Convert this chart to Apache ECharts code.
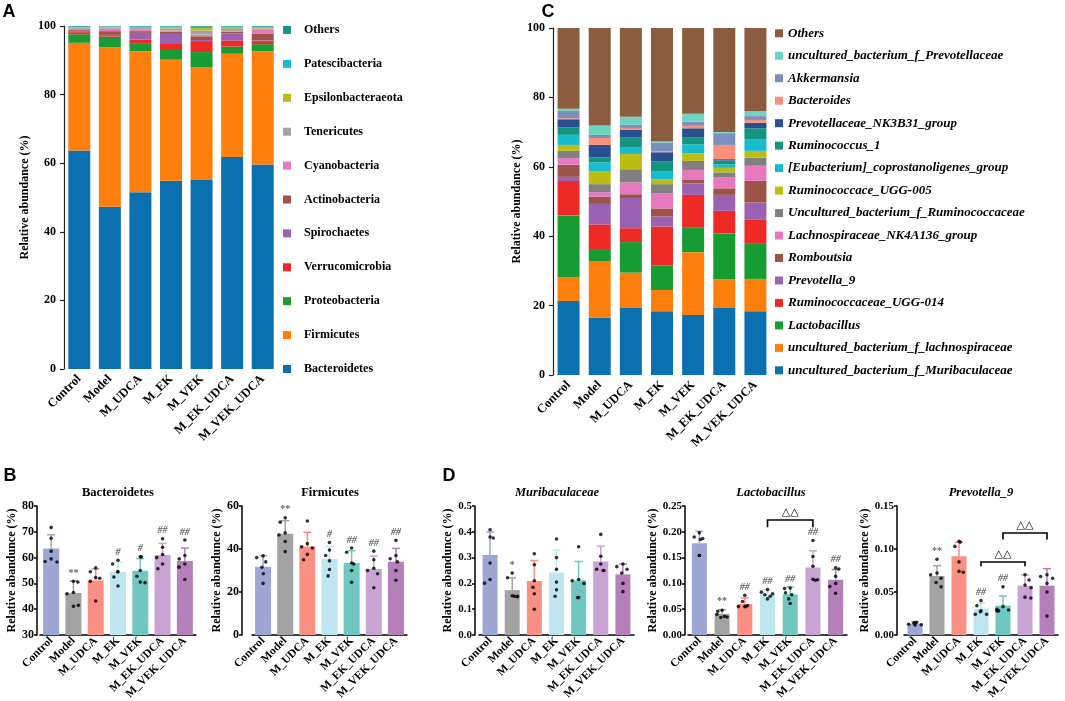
<!DOCTYPE html>
<html><head><meta charset="utf-8">
<script src="https://cdn.jsdelivr.net/npm/echarts@6.0.0/dist/echarts.min.js"></script>
<style>html,body{margin:0;padding:0;background:#fff}#c{width:1065px;height:701px}</style>
</head><body><div id="c"></div>
<script>
// ---------------- DATA ----------------
const groups = ['Control','Model','M_UDCA','M_EK','M_VEK','M_EK_UDCA','M_VEK_UDCA'];

// Panel A: phylum relative abundance (%), stacked bottom -> top
const bacteroidetes      = [63.7, 47.3, 51.5, 54.9, 55.1, 61.8, 59.6];
const firmicutes         = [31.4, 46.5, 41.1, 35.3, 32.8, 30.1, 33.0];
const proteobacteria     = [2.5, 2.7, 2.2, 2.8, 4.5, 2.1, 2.1];
const verrucomicrobia    = [0.6, 0.5, 1.2, 2.0, 3.2, 1.8, 0.9];
const spirochaetes       = [0.3, 0.4, 2.0, 2.7, 0.3, 2.1, 0.2];
const actinobacteria     = [0.3, 1.1, 0.5, 0.6, 1.1, 0.4, 1.9];
const cyanobacteria      = [0.4, 0.7, 0.4, 0.4, 0.5, 0.2, 1.2];
const tenericutes        = [0.3, 0.3, 0.5, 0.6, 1.2, 0.8, 0.4];
const epsilonbacteraeota = [0.1, 0.3, 0.3, 0.3, 0.7, 0.2, 0.3];
const patescibacteria    = [0.2, 0.1, 0.2, 0.3, 0.4, 0.4, 0.2];
const phylumOthers       = [0.2, 0.1, 0.1, 0.1, 0.2, 0.1, 0.2];

// Panel C: genus relative abundance (%), stacked bottom -> top
const gMuribaculaceae   = [21.3, 16.6, 19.3, 18.4, 17.3, 19.3, 18.4];
const gLachnospiraceae  = [6.8, 16.1, 10.2, 6.1, 18.1, 8.3, 9.3];
const gLactobacillus    = [17.9, 3.6, 8.8, 7.1, 7.2, 13.2, 10.1];
const gUGG014           = [9.9, 7.1, 4.0, 11.2, 9.3, 6.5, 6.9];
const gPrevotella9      = [1.2, 5.9, 8.7, 2.9, 3.3, 4.6, 5.0];
const gRomboutsia       = [3.5, 2.1, 1.1, 2.3, 1.0, 1.9, 6.3];
const gNK4A136          = [1.9, 1.3, 3.4, 4.3, 2.9, 3.1, 4.3];
const gRuminococcaceae  = [2.1, 2.3, 3.8, 2.7, 2.6, 1.5, 2.3];
const gUGG005           = [1.7, 3.8, 4.4, 1.4, 2.2, 1.3, 2.0];
const gEubacterium      = [2.9, 2.5, 1.8, 2.2, 2.6, 1.0, 3.4];
const gRuminococcus1    = [2.1, 1.4, 2.9, 3.0, 1.9, 1.1, 3.1];
const gNK3B31           = [2.4, 3.6, 2.2, 2.6, 2.7, 0.4, 1.6];
const gBacteroides      = [0.3, 2.0, 0.6, 0.3, 0.7, 4.1, 0.8];
const gAkkermansia      = [2.1, 0.9, 0.9, 2.5, 1.2, 3.4, 1.1];
const gPrevotellaceae   = [0.6, 2.7, 2.3, 0.3, 2.3, 0.3, 1.5];
const gOthers           = [23.3, 28.1, 25.6, 32.7, 24.7, 30.0, 23.9];

// Panel B: Bacteroidetes / Firmicutes (%)
const bactMean = [63.5, 46.3, 51.1, 54.4, 54.9, 61.0, 58.7];
const bactSD   = [5.3, 4.6, 4.5, 4.0, 4.7, 4.5, 5.0];
const bactDots = [[71.7,67.5,62.5,59.5,58.5,58.3],[50.8,50.5,46.5,46.0,41.1,41.5],[56.0,54.5,52.3,52.0,50.8,43.2],[59.0,57.5,54.5,54.5,52.5,49.0],[60.3,60.3,55.0,52.8,50.5,50.3],[67.3,64.0,61.2,60.0,57.5,55.7],[66.8,60.8,59.5,57.5,56.3,51.5]];
const bactSig  = ['', '**', '', '#', '#', '##', '##'];

const firmMean = [31.8, 47.1, 41.2, 35.3, 33.5, 30.7, 34.1];
const firmSD   = [5.1, 6.1, 6.6, 5.9, 5.7, 6.0, 6.2];
const firmDots = [[36.8,36.0,34.0,31.5,28.5,24.0],[54.5,52.5,47.5,46.5,43.5,38.8],[53.0,42.5,41.0,40.5,37.5,35.0],[43.0,39.5,37.0,34.5,30.5,27.5],[40.5,38.5,33.5,33.0,30.0,24.5],[39.0,35.0,31.0,30.0,28.5,22.0],[44.0,37.0,35.5,34.0,30.0,25.5]];
const firmSig  = ['', '**', '', '#', '##', '##', '##'];

// Panel D: Muribaculaceae / Lactobacillus / Prevotella_9 (%)
const muriMean = [0.310, 0.174, 0.209, 0.242, 0.212, 0.285, 0.235];
const muriSD   = [0.089, 0.047, 0.080, 0.087, 0.073, 0.059, 0.040];
const muriDots = [[0.408,0.380,0.376,0.279,0.215,0.201],[0.240,0.222,0.152,0.150,0.150,0.148],[0.315,0.272,0.210,0.185,0.160,0.100],[0.372,0.300,0.255,0.205,0.175,0.150],[0.342,0.215,0.210,0.200,0.145,0.145],[0.390,0.305,0.275,0.255,0.250,0.250],[0.275,0.265,0.255,0.240,0.200,0.168]];
const muriSig  = ['', '*', '', '', '', '', ''];

const lactoMean = [0.178, 0.041, 0.060, 0.079, 0.079, 0.131, 0.107];
const lactoSD   = [0.023, 0.008, 0.012, 0.009, 0.014, 0.032, 0.020];
const lactoDots = [[0.198,0.190,0.187,0.185,0.154,0.154],[0.048,0.046,0.040,0.036,0.034,0.035],[0.077,0.065,0.057,0.055,0.055,0.055],[0.088,0.083,0.080,0.078,0.075,0.070],[0.091,0.090,0.082,0.078,0.070,0.061],[0.183,0.152,0.133,0.108,0.107,0.106],[0.130,0.128,0.114,0.100,0.094,0.081]];
const lactoSig  = ['', '**', '##', '##', '##', '##', '##'];
const lactoBrackets = [[3, 5, 0.223, 0.209]];

const prevMean = [0.0132, 0.0686, 0.0915, 0.0306, 0.0341, 0.0574, 0.0574];
const prevSD   = [0.0023, 0.0120, 0.0165, 0.0066, 0.0112, 0.0124, 0.0197];
const prevDots = [[0.0145,0.0145,0.014,0.0125,0.012,0.0115],[0.088,0.072,0.070,0.066,0.061,0.056],[0.109,0.108,0.103,0.085,0.074,0.073],[0.040,0.034,0.028,0.027,0.024,0.024],[0.056,0.033,0.030,0.029,0.028,0.028],[0.070,0.064,0.058,0.055,0.044,0.043],[0.070,0.068,0.066,0.060,0.050,0.022]];
const prevSig  = ['', '**', '', '##', '##', '', ''];
const prevBrackets = [[3, 5, 0.0849, 0.0798], [4, 6, 0.1186, 0.1110]];

// ---------------- STYLE ----------------
const SERIF = '"Liberation Serif","Times New Roman",serif';
const SANS = '"Liberation Sans",Arial,sans-serif';

const phyla = [
  ['Bacteroidetes', bacteroidetes, '#0b70b0'],
  ['Firmicutes', firmicutes, '#ff7f0e'],
  ['Proteobacteria', proteobacteria, '#179c33'],
  ['Verrucomicrobia', verrucomicrobia, '#ee2a26'],
  ['Spirochaetes', spirochaetes, '#9b62b4'],
  ['Actinobacteria', actinobacteria, '#9c5449'],
  ['Cyanobacteria', cyanobacteria, '#e678c0'],
  ['Tenericutes', tenericutes, '#a3a3a3'],
  ['Epsilonbacteraeota', epsilonbacteraeota, '#bcbc12'],
  ['Patescibacteria', patescibacteria, '#17bccf'],
  ['Others', phylumOthers, '#14957f']
];
const genera = [
  ['uncultured_bacterium_f_Muribaculaceae', gMuribaculaceae, '#0b70b0'],
  ['uncultured_bacterium_f_lachnospiraceae', gLachnospiraceae, '#ff7f0e'],
  ['Lactobacillus', gLactobacillus, '#179c33'],
  ['Ruminococcaceae_UGG-014', gUGG014, '#ee2a26'],
  ['Prevotella_9', gPrevotella9, '#9b62b4'],
  ['Romboutsia', gRomboutsia, '#9c5449'],
  ['Lachnospiraceae_NK4A136_group', gNK4A136, '#e678c0'],
  ['Uncultured_bacterium_f_Ruminococcaceae', gRuminococcaceae, '#808080'],
  ['Ruminococcace_UGG-005', gUGG005, '#bcbc12'],
  ['[Eubacterium]_coprostanoligenes_group', gEubacterium, '#17bccf'],
  ['Ruminococcus_1', gRuminococcus1, '#14957f'],
  ['Prevotellaceae_NK3B31_group', gNK3B31, '#284f8f'],
  ['Bacteroides', gBacteroides, '#fb917a'],
  ['Akkermansia', gAkkermansia, '#7d8fbd'],
  ['uncultured_bacterium_f_Prevotellaceae', gPrevotellaceae, '#6fd3c2'],
  ['Others (genus)', gOthers, '#8b5c3e']
];
const barColors = ['#9ea6d4','#a3a3a3','#fa8f84','#bfe6ee','#70c7bf','#c9a3d3','#b57fb9'];

// ---------------- LAYOUT ----------------
const grids = [
  {left:64, top:26, width:214, height:343},   // A
  {left:553, top:28, width:218, height:347},  // C
  {left:40, top:506, width:156, height:129},  // B1
  {left:252, top:506, width:155, height:129}, // B2
  {left:479, top:506, width:155, height:129}, // D1
  {left:688, top:506, width:159, height:129}, // D2
  {left:904, top:506, width:154, height:129}  // D3
].map(g => Object.assign({outerBoundsMode:'none', containLabel:false}, g));

const xAxes = [], yAxes = [], series = [];

// stacked panels
function stackedAxes(gi, nameGap) {
  xAxes.push({
    type:'category', gridIndex:gi, data:groups,
    axisLine:{show:false}, axisTick:{show:false},
    axisLabel:{rotate:45, interval:0, margin:8, color:'#000', fontFamily:SERIF, fontWeight:'bold', fontSize:12.5}
  });
  yAxes.push({
    type:'value', gridIndex:gi, min:0, max:100, interval:20,
    name:'Relative abundance (%)', nameLocation:'middle', nameGap:nameGap,
    nameTextStyle:{color:'#000', fontFamily:SERIF, fontWeight:'bold', fontSize:12},
    axisLine:{show:true, lineStyle:{color:'#222', width:1.2}},
    axisTick:{show:true, length:4, lineStyle:{color:'#222', width:1.2}},
    splitLine:{show:false},
    axisLabel:{margin:8, color:'#000', fontFamily:SERIF, fontWeight:'bold', fontSize:12}
  });
}
stackedAxes(0, 33);
stackedAxes(1, 30);
phyla.forEach(([n, arr, col]) => series.push({
  type:'bar', name:n, stack:'A', xAxisIndex:0, yAxisIndex:0, data:arr, barWidth:22,
  itemStyle:{color:col}, emphasis:{disabled:true}
}));
genera.forEach(([n, arr, col]) => series.push({
  type:'bar', name:n, stack:'C', xAxisIndex:1, yAxisIndex:1, data:arr, barWidth:22,
  itemStyle:{color:col}, emphasis:{disabled:true}
}));

// stat panels
function statPanel(gi, cfg) {
  xAxes.push({
    type:'category', gridIndex:gi, data:groups,
    jitter:13, jitterOverlap:false, jitterMargin:3,
    axisLine:{show:true, lineStyle:{color:'#000', width:1.5}}, axisTick:{show:false},
    axisLabel:{rotate:45, interval:0, margin:4, color:'#000', fontFamily:SERIF, fontWeight:'bold', fontSize:11.5}
  });
  yAxes.push({
    type:'value', gridIndex:gi, min:cfg.min, max:cfg.max, interval:cfg.step, offset:cfg.off,
    name:cfg.yname, nameLocation:'middle', nameGap:cfg.gap,
    nameTextStyle:{color:'#000', fontFamily:SERIF, fontWeight:'bold', fontSize:12},
    axisLine:{show:true, lineStyle:{color:'#000', width:1.5}},
    axisTick:{show:true, length:3, lineStyle:{color:'#000', width:1.5}},
    splitLine:{show:false},
    axisLabel:{margin:3, color:'#000', fontFamily:SERIF, fontWeight:'bold', fontSize:cfg.fs,
      formatter: v => v.toFixed(cfg.dec)}
  });
  series.push({
    type:'bar', name:cfg.key + ' mean', xAxisIndex:gi, yAxisIndex:gi, barWidth:cfg.bw,
    data: cfg.mean.map((v,i) => ({value:v, itemStyle:{color:barColors[i]}})),
    emphasis:{disabled:true}, z:2
  });
  series.push({
    type:'custom', name:cfg.key + ' sd', xAxisIndex:gi, yAxisIndex:gi, z:3,
    data: cfg.mean.map((m,i) => [i, m, m + cfg.sd[i], Math.max(m + cfg.sd[i], ...cfg.dots[i])]),
    encode:{x:0, y:[1,2,3]},
    renderItem: (params, api) => {
      const i = params.dataIndex;
      const b = api.coord([i, api.value(1)]);
      const t = api.coord([i, api.value(2)]);
      const h = api.coord([i, api.value(3)]);
      const st = {stroke:barColors[i], lineWidth:1.5};
      const ch = [
        {type:'line', shape:{x1:t[0], y1:b[1], x2:t[0], y2:t[1]}, style:st},
        {type:'line', shape:{x1:t[0]-4, y1:t[1], x2:t[0]+4, y2:t[1]}, style:st}
      ];
      const s = cfg.sig[i];
      if (s) ch.push({type:'text', x:h[0], y:h[1]-3, style:{text:s, align:'center', verticalAlign:'bottom',
        fill:'#666', font:(s.indexOf('#')>=0?'italic ':'') + 'bold 10px ' + SERIF}});
      return {type:'group', children:ch};
    }
  });
  series.push({
    type:'scatter', name:cfg.key + ' dots', xAxisIndex:gi, yAxisIndex:gi, z:4,
    symbolSize:3.6, itemStyle:{color:'#000'},
    data: cfg.dots.flatMap((arr,i) => arr.map(v => [i, v])),
    emphasis:{disabled:true}
  });
  if (cfg.br) series.push({
    type:'custom', name:cfg.key + ' bracket', xAxisIndex:gi, yAxisIndex:gi, z:5,
    data: cfg.br, encode:{x:[0,1], y:[2,3]},
    renderItem: (params, api) => {
      const p1 = api.coord([api.value(0), api.value(3)]);
      const p2 = api.coord([api.value(0), api.value(2)]);
      const p3 = api.coord([api.value(1), api.value(2)]);
      const p4 = api.coord([api.value(1), api.value(3)]);
      return {type:'group', children:[
        {type:'polyline', shape:{points:[p1,p2,p3,p4]}, style:{stroke:'#000', lineWidth:1.6, fill:null}},
        {type:'text', x:(p2[0]+p3[0])/2, y:p2[1]-2, style:{text:'\u25B3\u25B3', align:'center', verticalAlign:'bottom',
          fill:'#000', font:'11px "DejaVu Sans",sans-serif'}}
      ]};
    }
  });
}

statPanel(2, {key:'Bacteroidetes', mean:bactMean, sd:bactSD, dots:bactDots, sig:bactSig,
  min:30, max:80, step:10, dec:0, off:3, gap:16, fs:12, bw:16, yname:'Relative abandunce (%)'});
statPanel(3, {key:'Firmicutes', mean:firmMean, sd:firmSD, dots:firmDots, sig:firmSig,
  min:0, max:60, step:20, dec:0, off:10, gap:10, fs:12, bw:16, yname:'Relative abandunce (%)'});
statPanel(4, {key:'Muribaculaceae', mean:muriMean, sd:muriSD, dots:muriDots, sig:muriSig,
  min:0, max:0.5, step:0.1, dec:1, off:4, gap:20, fs:11, bw:15, yname:'Relative abandunce (%)'});
statPanel(5, {key:'Lactobacillus', mean:lactoMean, sd:lactoSD, dots:lactoDots, sig:lactoSig, br:lactoBrackets,
  min:0, max:0.25, step:0.05, dec:2, off:3, gap:20, fs:11, bw:15, yname:'Relative abandunce (%)'});
statPanel(6, {key:'Prevotella_9', mean:prevMean, sd:prevSD, dots:prevDots, sig:prevSig, br:prevBrackets,
  min:0, max:0.15, step:0.05, dec:2, off:7, gap:22, fs:11, bw:15, yname:'Relative abundance (%)'});

// ---------------- TEXT ----------------
function txt(x, y, s, font) {
  return {type:'text', x:x, y:y, style:{text:s, font:font, fill:'#000', align:'center', verticalAlign:'middle'}};
}
const graphic = [
  txt(9, 12, 'A', 'bold 18px ' + SANS),
  txt(548, 12, 'C', 'bold 18px ' + SANS),
  txt(10, 476, 'B', 'bold 18px ' + SANS),
  txt(449, 476, 'D', 'bold 18px ' + SANS),
  txt(118, 493, 'Bacteroidetes', 'bold 12.5px ' + SERIF),
  txt(330, 493, 'Firmicutes', 'bold 12.5px ' + SERIF),
  txt(557, 493, 'Muribaculaceae', 'italic bold 12.5px ' + SERIF),
  txt(771, 493, 'Lactobacillus', 'italic bold 12.5px ' + SERIF),
  txt(981, 493, 'Prevotella_9', 'italic bold 12.5px ' + SERIF)
];

const option = {
  animation:false,
  backgroundColor:'#fff',
  grid:grids, xAxis:xAxes, yAxis:yAxes, series:series, graphic:graphic,
  legend:[
    {
      data: phyla.map(p => p[0]).reverse(),
      orient:'vertical', left:283, top:23, padding:0, itemGap:19.9,
      itemWidth:8, itemHeight:8, icon:'rect', selectedMode:false,
      textStyle:{color:'#000', fontFamily:SERIF, fontWeight:'bold', fontSize:12, lineHeight:14, padding:[0,0,0,8]}
    },
    {
      data: genera.map(p => p[0]).reverse(),
      formatter: n => n === 'Others (genus)' ? 'Others' : n,
      orient:'vertical', left:775, top:26.3, padding:0, itemGap:8.47,
      itemWidth:8, itemHeight:8, icon:'rect', selectedMode:false,
      textStyle:{color:'#000', fontFamily:SERIF, fontWeight:'bold', fontStyle:'italic', fontSize:13, lineHeight:14}
    }
  ]
};
const chart = echarts.init(document.getElementById('c'));
chart.setOption(option);
</script></body></html>
